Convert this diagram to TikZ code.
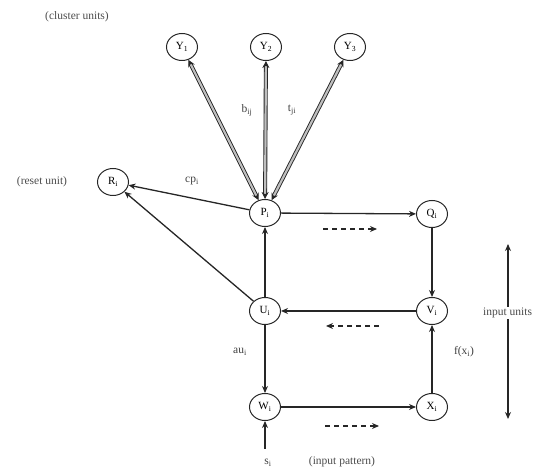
\documentclass[tikz,border=0pt]{standalone}
\usepackage{fontspec}
\setmainfont{Liberation Serif}
\usetikzlibrary{arrows.meta,shapes.geometric}
\begin{document}
\begin{tikzpicture}[x=1pt,y=-1pt,
  unit/.style={ellipse, draw=black!85, line width=1pt, minimum width=31pt,
    minimum height=27pt, inner sep=0pt, fill=white, font=\fontsize{11}{12}\selectfont},
  conn/.style={draw=black!85, line width=1.3pt, -{Stealth[length=7pt,width=6pt]}},
  dual/.style={draw=black!85, double=gray!50, double distance=2.2pt, line width=0.9pt,
    {Stealth[length=7pt,width=7pt]}-{Stealth[length=7pt,width=7pt]}},
  flow/.style={draw=black!85, line width=1.3pt, dash pattern=on 5pt off 4pt,
    -{Stealth[length=7pt,width=6pt]}},
  lbl/.style={font=\fontsize{11.5}{12}\selectfont, text=black!75, inner sep=1pt},
  note/.style={font=\fontsize{11.5}{12}\selectfont, text=black!70, inner sep=1pt}]
\useasboundingbox (0,0) rectangle (542,470);

% cluster units
\node[unit] (Y1) at (182,47) {Y\textsubscript{1}};
\node[unit] (Y2) at (266,47) {Y\textsubscript{2}};
\node[unit] (Y3) at (350,47) {Y\textsubscript{3}};
\node[note] (cl) at (77,17) {(cluster units)};

% reset unit
\node[unit] (R) at (113,182) {R\textsubscript{i}};
\node[note] (rs) at (42,182) {(reset unit)};

% F1 layer units
\node[unit] (P) at (265,213) {P\textsubscript{i}};
\node[unit] (Q) at (432,214) {Q\textsubscript{i}};
\node[unit] (U) at (265,311) {U\textsubscript{i}};
\node[unit] (V) at (432,311) {V\textsubscript{i}};
\node[unit] (W) at (265,407) {W\textsubscript{i}};
\node[unit] (X) at (432,407) {X\textsubscript{i}};

% bottom-up / top-down weights
\draw[dual] (P) -- (Y1);
\draw[dual] (P) -- (Y2);
\draw[dual] (P) -- (Y3);
\node[lbl] (bij) at (247,110) {b\textsubscript{ij}};
\node[lbl] (tji) at (292,110) {t\textsubscript{ji}};

% reset connections
\draw[conn] (P) -- (R);
\draw[conn] (U) -- (R);
\node[lbl] (cp) at (192,181) {cp\textsubscript{i}};

% processing loops
\draw[conn] (P) -- (Q);
\draw[conn] (Q) -- (V);
\draw[conn] (V) -- (U);
\draw[conn] (U) -- (P);
\draw[conn] (U) -- (W);
\draw[conn] (W) -- (X);
\draw[conn] (X) -- (V);
\node[lbl] (au) at (240,352) {au\textsubscript{i}};
\node[lbl] (fx) at (464,352) {f(x\textsubscript{i})};

% input signal
\node[lbl] (s) at (268,463) {s\textsubscript{i}};
\coordinate (sIn) at (265,449);
\draw[conn] (sIn) -- (W);
\node[note] (ip) at (342,462) {(input pattern)};

% direction of flow
\coordinate (d1a) at (323,229); \coordinate (d1b) at (377,229);
\coordinate (d2a) at (379,326); \coordinate (d2b) at (326,326);
\coordinate (d3a) at (325,426); \coordinate (d3b) at (379,426);
\draw[flow] (d1a) -- (d1b);
\draw[flow] (d2a) -- (d2b);
\draw[flow] (d3a) -- (d3b);

% extent of the input units
\coordinate (iuTop) at (508,244);
\coordinate (iuBot) at (508,419);
\draw[conn, {Stealth[length=7pt,width=6pt]}-{Stealth[length=7pt,width=6pt]}] (iuTop) -- (iuBot);
\node[note, fill=white, anchor=west] (iu) at (482,313) {input units};
\end{tikzpicture}
\end{document}
